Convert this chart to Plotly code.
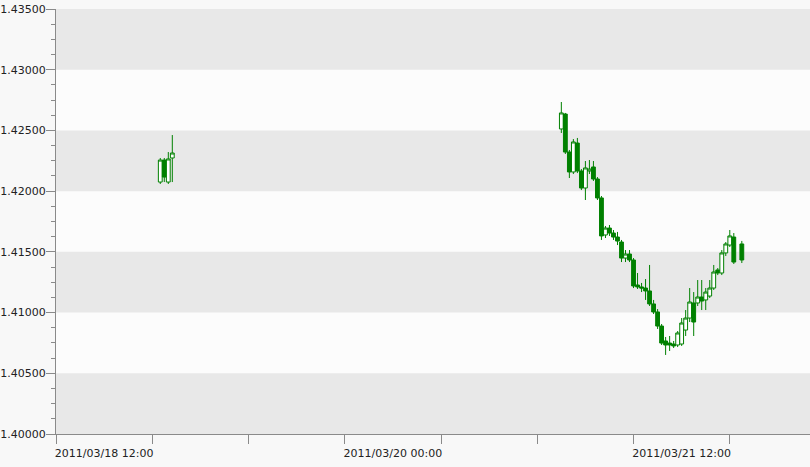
import plotly.graph_objs as go

# Half-hour candles: a short Saturday session, then Monday
dates = [
    '2011-03-19 01:00', '2011-03-19 01:30', '2011-03-19 02:00', '2011-03-19 02:30',
    '2011-03-21 03:00', '2011-03-21 03:30', '2011-03-21 04:00', '2011-03-21 04:30',
    '2011-03-21 05:00', '2011-03-21 05:30', '2011-03-21 06:00', '2011-03-21 06:30',
    '2011-03-21 07:00', '2011-03-21 07:30', '2011-03-21 08:00', '2011-03-21 08:30',
    '2011-03-21 09:00', '2011-03-21 09:30', '2011-03-21 10:00', '2011-03-21 10:30',
    '2011-03-21 11:00', '2011-03-21 11:30', '2011-03-21 12:00', '2011-03-21 12:30',
    '2011-03-21 13:00', '2011-03-21 13:30', '2011-03-21 14:00', '2011-03-21 14:30',
    '2011-03-21 15:00', '2011-03-21 15:30', '2011-03-21 16:00', '2011-03-21 16:30',
    '2011-03-21 17:00', '2011-03-21 17:30', '2011-03-21 18:00', '2011-03-21 18:30',
    '2011-03-21 19:00', '2011-03-21 19:30', '2011-03-21 20:00', '2011-03-21 20:30',
    '2011-03-21 21:00', '2011-03-21 21:30', '2011-03-21 22:00', '2011-03-21 22:30',
    '2011-03-21 23:00', '2011-03-21 23:30', '2011-03-22 00:00', '2011-03-22 00:30',
    '2011-03-22 01:30',
]
opens = [
    1.42075, 1.42256, 1.42075, 1.42273,
    1.42512, 1.42635, 1.42322, 1.42158, 1.42396, 1.42166, 1.42026, 1.42166,
    1.42199, 1.42100, 1.41944, 1.41639, 1.41696, 1.41655, 1.41622, 1.41581,
    1.41449, 1.41482, 1.41433, 1.41227, 1.41211, 1.41202, 1.41178, 1.41071,
    1.41005, 1.40889, 1.40766, 1.40749, 1.40741, 1.40733, 1.40741, 1.40856,
    1.40955, 1.41079, 1.41079, 1.41128, 1.41104, 1.41136, 1.41202, 1.41351,
    1.41326, 1.41491, 1.41556, 1.41622, 1.41565,
]
highs = [
    1.42273, 1.42273, 1.42322, 1.42462,
    1.42734, 1.42644, 1.42339, 1.42429, 1.42438, 1.42182, 1.42248, 1.42256,
    1.42248, 1.42116, 1.41960, 1.41713, 1.41721, 1.41680, 1.41664, 1.41598,
    1.41515, 1.41515, 1.41449, 1.41326, 1.41244, 1.41276, 1.41392, 1.41104,
    1.41029, 1.40906, 1.40799, 1.40807, 1.40766, 1.40848, 1.40955, 1.41021,
    1.41202, 1.41169, 1.41268, 1.41268, 1.41202, 1.41268, 1.41392, 1.41367,
    1.41515, 1.41581, 1.41680, 1.41655, 1.41590,
]
lows = [
    1.42059, 1.42075, 1.42059, 1.42075,
    1.42479, 1.42306, 1.42108, 1.42141, 1.42149, 1.42009, 1.41927, 1.42141,
    1.42084, 1.41927, 1.41598, 1.41614, 1.41631, 1.41598, 1.41556, 1.41416,
    1.41416, 1.41416, 1.41202, 1.41194, 1.41169, 1.41104, 1.41054, 1.40988,
    1.40865, 1.40733, 1.40651, 1.40684, 1.40708, 1.40716, 1.40725, 1.40807,
    1.40922, 1.40807, 1.41054, 1.41021, 1.41021, 1.41120, 1.41186, 1.41309,
    1.41309, 1.41466, 1.41540, 1.41400, 1.41408,
]
closes = [
    1.42256, 1.42116, 1.42265, 1.42314,
    1.42644, 1.42322, 1.42158, 1.42405, 1.42166, 1.42026, 1.42191, 1.42182,
    1.42100, 1.41944, 1.41631, 1.41696, 1.41655, 1.41622, 1.41589, 1.41449,
    1.41482, 1.41433, 1.41219, 1.41211, 1.41202, 1.41178, 1.41071, 1.41005,
    1.40889, 1.40749, 1.40733, 1.40733, 1.40725, 1.40832, 1.40914, 1.40955,
    1.41087, 1.40922, 1.41128, 1.41095, 1.41169, 1.41202, 1.41334, 1.41326,
    1.41491, 1.41565, 1.41631, 1.41416, 1.41433,
]

# x labels sit in the middle of the 12h slot that starts at their time
x_tick_labels = ['2011/03/18 12:00', '2011/03/20 00:00', '2011/03/21 12:00']
x_tick_pos = ['2011-03-18 18:00', '2011-03-20 06:00', '2011-03-21 18:00']
y_levels = [1.400, 1.405, 1.410, 1.415, 1.420, 1.425, 1.430, 1.435]

green = '#008000'
axis_gray = '#8a8a8a'

fig = go.Figure()

fig.add_trace(go.Candlestick(
    x=dates,
    open=opens,
    high=highs,
    low=lows,
    close=closes,
    increasing=dict(line=dict(color=green, width=1), fillcolor='white'),
    decreasing=dict(line=dict(color=green, width=1), fillcolor=green),
    whiskerwidth=0,
    showlegend=False,
))

# Alternating horizontal bands
for i in range(len(y_levels) - 1):
    if i % 2 == 0:
        fig.add_shape(
            type='rect', xref='paper', x0=0, x1=1,
            y0=y_levels[i], y1=y_levels[i + 1],
            fillcolor='#e8e8e8', line_width=0, layer='below',
        )

fig.update_layout(
    width=810, height=467,
    margin=dict(l=56, r=0, t=9, b=33),
    paper_bgcolor='#f8f8f8',
    plot_bgcolor='#fcfcfc',
    font=dict(family='DejaVu Sans', size=11, color='#222222'),
    boxgap=0, boxgroupgap=0.05,
    showlegend=False,
)

fig.update_xaxes(
    type='date', automargin=False,
    range=['2011-03-18 12:00', '2011-03-22 10:00'],
    rangeslider_visible=False,
    tickmode='array', tickvals=x_tick_pos, ticktext=x_tick_labels,
    ticks='outside', ticklen=9, tickcolor='rgba(0,0,0,0)',
    minor=dict(ticks='outside', ticklen=9, tickcolor=axis_gray, tickmode='linear',
               dtick=12 * 3600 * 1000, tick0='2011-03-18 12:00', showgrid=False),
    showline=True, linecolor=axis_gray, showgrid=False, zeroline=False,
)

fig.update_yaxes(
    automargin=False,
    range=[1.400, 1.435], tick0=1.400, dtick=0.005, tickformat='.5f',
    ticks='outside', ticklen=9, tickcolor=axis_gray, ticklabelstandoff=-2,
    minor=dict(ticks='outside', ticklen=4, dtick=0.00125, tickcolor=axis_gray, showgrid=False),
    showline=True, linecolor=axis_gray, showgrid=False, zeroline=False,
)

# drop the browser's default page margin so the chart sits at the corner
fig.write_html(
    'out.html',
    config={'displayModeBar': False},
    post_script="document.body.style.margin = '0';",
)
